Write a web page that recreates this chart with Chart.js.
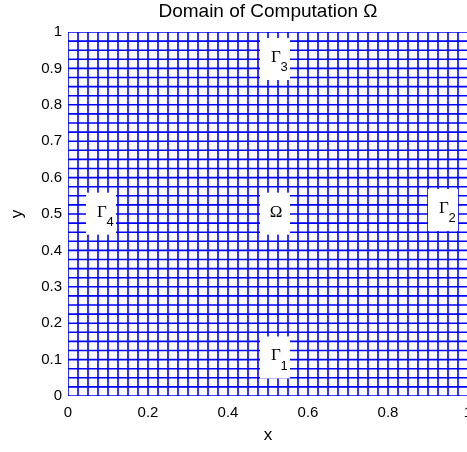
<!DOCTYPE html>
<html>
<head>
<meta charset="utf-8">
<script src="https://cdn.jsdelivr.net/npm/chart.js@4"></script>
<style>
	html, body { margin: 0; padding: 0; overflow: hidden; background: #fff; }
	canvas { display: block; }
</style>
</head>
<body>
<canvas id="mesh" width="490" height="452"></canvas>
<script>
// mesh node coordinates (uniform 40 x 40 cells on the unit square)
const meshX = [0, 0.025, 0.05, 0.075, 0.1, 0.125, 0.15, 0.175, 0.2, 0.225, 0.25, 0.275, 0.3, 0.325,
	0.35, 0.375, 0.4, 0.425, 0.45, 0.475, 0.5, 0.525, 0.55, 0.575, 0.6, 0.625, 0.65, 0.675, 0.7,
	0.725, 0.75, 0.775, 0.8, 0.825, 0.85, 0.875, 0.9, 0.925, 0.95, 0.975, 1];
const meshY = [0, 0.025, 0.05, 0.075, 0.1, 0.125, 0.15, 0.175, 0.2, 0.225, 0.25, 0.275, 0.3, 0.325,
	0.35, 0.375, 0.4, 0.425, 0.45, 0.475, 0.5, 0.525, 0.55, 0.575, 0.6, 0.625, 0.65, 0.675, 0.7,
	0.725, 0.75, 0.775, 0.8, 0.825, 0.85, 0.875, 0.9, 0.925, 0.95, 0.975, 1];

const xTicks = [0, 0.2, 0.4, 0.6, 0.8, 1];
const yTicks = [0, 0.1, 0.2, 0.3, 0.4, 0.5, 0.6, 0.7, 0.8, 0.9, 1];

// boundary / domain labels
const labelMain = ['Γ', 'Γ', 'Γ', 'Γ', 'Ω'];
const labelSub = ['1', '2', '3', '4', ''];
const labelX = [0.52, 0.94, 0.52, 0.085, 0.52];
const labelY = [0.11, 0.515, 0.93, 0.505, 0.505];

const meshColor = '#0000ff';

const datasets = [];
meshX.forEach(function (xv) {
	datasets.push({
		data: [{ x: xv, y: meshY[0] }, { x: xv, y: meshY[meshY.length - 1] }]
	});
});
meshY.forEach(function (yv) {
	datasets.push({
		data: [{ x: meshX[0], y: yv }, { x: meshX[meshX.length - 1], y: yv }]
	});
});
datasets.forEach(function (ds) {
	ds.showLine = true;
	ds.borderColor = meshColor;
	ds.borderWidth = 1.6;
	ds.pointRadius = 0;
	ds.pointHoverRadius = 0;
});

const meshLabels = {
	id: 'meshLabels',
	afterDatasetsDraw(chart) {
		const { ctx, scales: { x, y } } = chart;
		ctx.save();
		ctx.textAlign = 'center';
		ctx.textBaseline = 'middle';
		labelMain.forEach(function (text, i) {
			const px = x.getPixelForValue(labelX[i]);
			const py = y.getPixelForValue(labelY[i]);
			ctx.fillStyle = '#ffffff';
			ctx.fillRect(px - 16, py - 19.5, 30, 42);
			ctx.fillStyle = '#000000';
			ctx.font = '17px "Liberation Serif"';
			ctx.fillText(text, px, py);
			if (labelSub[i]) {
				ctx.font = '13px "Liberation Sans"';
				ctx.fillText(labelSub[i], px + 8, py + 10);
			}
		});
		ctx.restore();
	}
};

const tickFont = { family: '"Liberation Sans", Arial, sans-serif', size: 15 };

const options = {
	responsive: false,
	animation: false,
	layout: { padding: { top: 0, right: 22, bottom: 0, left: 0 } },
	plugins: {
		legend: { display: false },
		tooltip: { enabled: false },
		title: {
			display: true,
			fullSize: false,
			text: 'Domain of Computation Ω',
			color: '#000',
			font: { family: '"Liberation Sans", Arial, sans-serif', size: 19, weight: 'normal' },
			padding: { top: 0, bottom: 9.2 }
		}
	},
	scales: {
		x: {
			type: 'linear',
			min: 0,
			max: 1,
			grid: { display: false, drawTicks: false },
			border: { display: false },
			afterBuildTicks: function (scale) {
				scale.ticks = xTicks.map(v => ({ value: v }));
			},
			afterFit: function (scale) {
				scale.height = 56;
			},
			ticks: {
				color: '#000',
				font: tickFont,
				padding: 8,
				maxRotation: 0,
				callback: v => String(v)
			},
			title: {
				display: true,
				text: 'x',
				color: '#000',
				font: { family: '"Liberation Sans", Arial, sans-serif', size: 17 },
				padding: { top: 0, bottom: 6 }
			}
		},
		y: {
			type: 'linear',
			min: 0,
			max: 1,
			grid: { display: false, drawTicks: false },
			border: { display: false },
			afterBuildTicks: function (scale) {
				scale.ticks = yTicks.map(v => ({ value: v }));
			},
			afterFit: function (scale) {
				scale.width = 68;
			},
			ticks: {
				color: '#000',
				font: tickFont,
				padding: 6,
				callback: v => String(v)
			},
			title: {
				display: true,
				text: 'y',
				color: '#000',
				font: { family: '"Liberation Sans", Arial, sans-serif', size: 17 },
				padding: { top: 7, bottom: 0 }
			}
		}
	}
};

const chart = new Chart(document.getElementById('mesh'), {
	type: 'scatter',
	data: { datasets },
	options,
	plugins: [meshLabels]
});
</script>
</body>
</html>
